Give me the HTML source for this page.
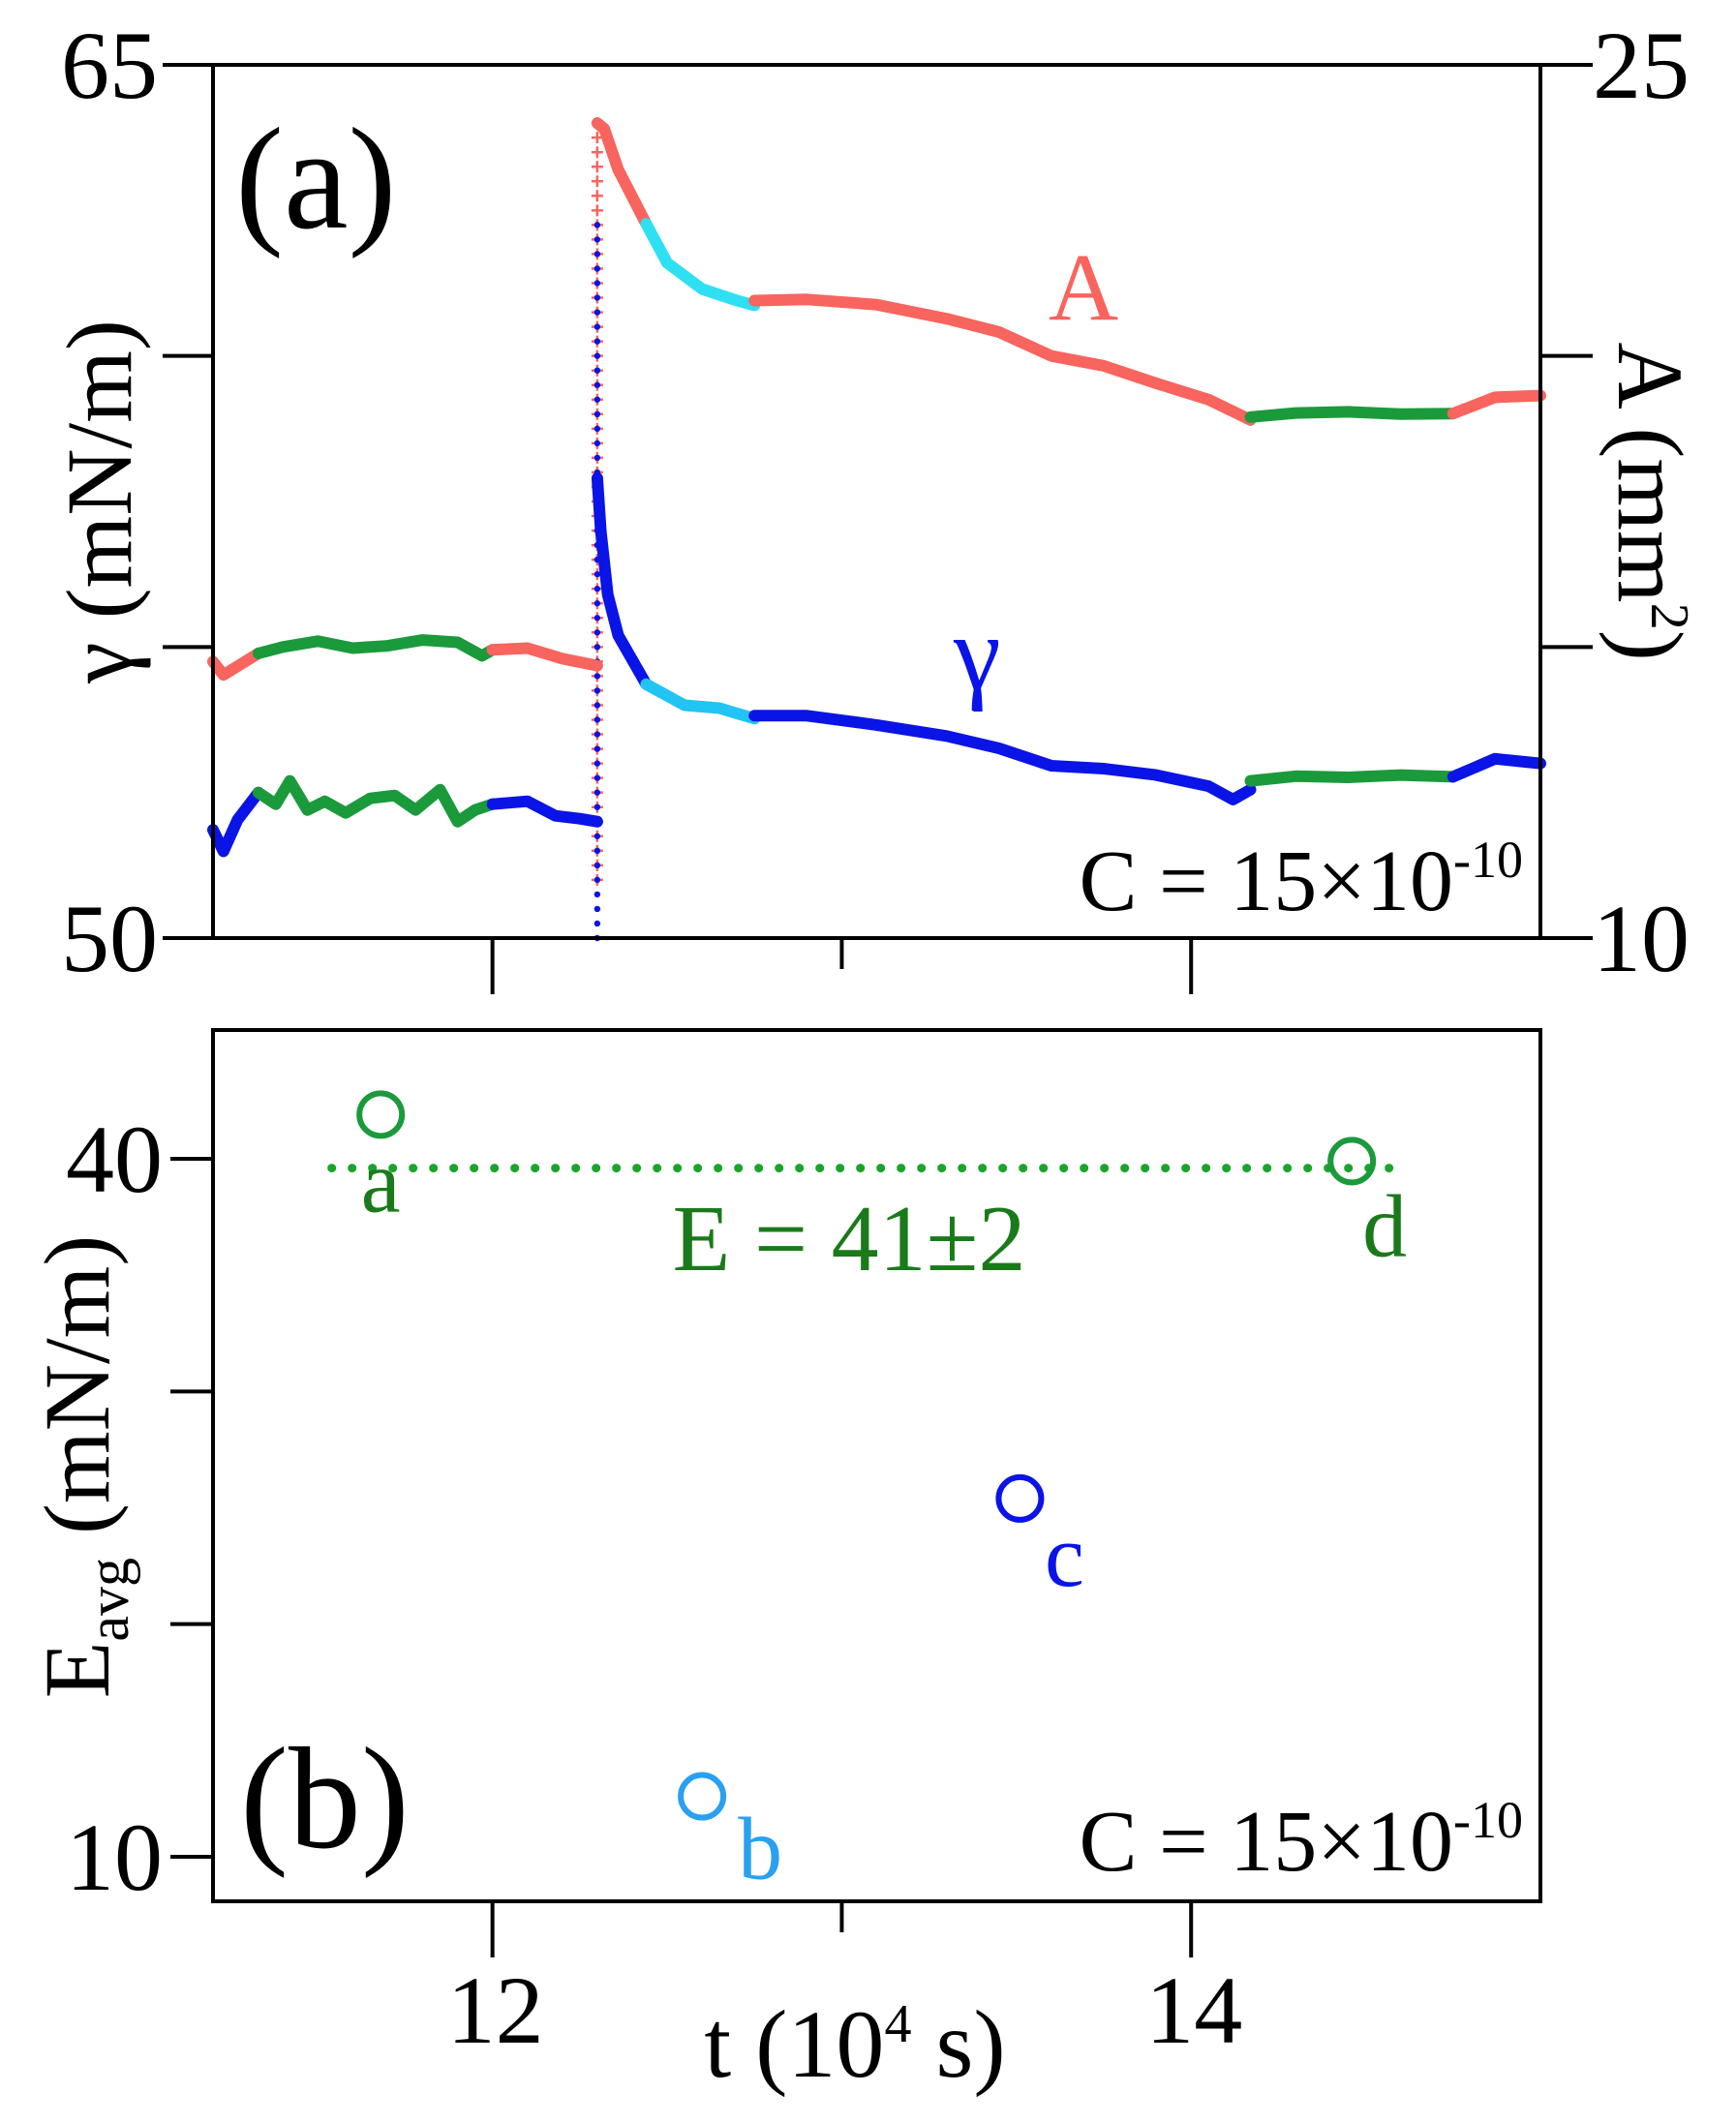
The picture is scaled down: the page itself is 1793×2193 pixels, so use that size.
<!DOCTYPE html>
<html><head><meta charset="utf-8"><style>
html,body{margin:0;padding:0;background:#fff}
svg{display:block}
text{font-family:"Liberation Serif",serif}
</style></head><body>
<svg id="chart" width="1793" height="2193" viewBox="0 0 1793 2193" xmlns="http://www.w3.org/2000/svg">
<g id="axesA"></g>
<g id="axesB"></g>
</svg>
<script>
// ---- Panel (a) data: time (1e4 s) and values ----
const aRed1T=[11.2,11.23,11.33], aRed1V=[14.75,14.52,14.89];
const aGreen1T=[11.33,11.4,11.5,11.6,11.7,11.8,11.9,11.97,12.0], aGreen1V=[14.89,15.0,15.1,14.98,15.02,15.12,15.08,14.85,14.95];
const aRed2T=[12.0,12.1,12.2,12.3], aRed2V=[14.95,14.98,14.8,14.68];
const aRed3T=[12.3,12.32,12.36,12.44], aRed3V=[24.0,23.9,23.2,22.27];
const aCyanT=[12.44,12.5,12.6,12.7,12.75], aCyanV=[22.27,21.6,21.15,20.95,20.87];
const aRed4T=[12.75,12.9,13.1,13.3,13.45,13.6,13.75,13.9,14.05,14.17], aRed4V=[20.95,20.97,20.88,20.64,20.41,20.0,19.83,19.53,19.25,18.9];
const aGreen2T=[14.17,14.3,14.45,14.6,14.75], aGreen2V=[18.95,19.02,19.04,19.0,19.01];
const aRed5T=[14.75,14.87,15.0], aRed5V=[19.01,19.29,19.32];
const aSpikeT=12.3, aSpikeLo=11.0, aSpikeHi=24.0;

const gBlue1T=[11.2,11.23,11.27,11.33], gBlue1V=[51.86,51.49,52.03,52.5];
const gGreen1T=[11.33,11.38,11.42,11.47,11.52,11.58,11.65,11.72,11.78,11.85,11.9,11.95,12.0], gGreen1V=[52.5,52.3,52.7,52.2,52.35,52.15,52.4,52.45,52.2,52.55,52.0,52.2,52.3];
const gBlue2T=[12.0,12.1,12.18,12.25,12.3], gBlue2V=[52.3,52.35,52.1,52.05,52.0];
const gBlue3T=[12.3,12.31,12.33,12.36,12.44], gBlue3V=[57.9,57.0,55.9,55.2,54.36];
const gCyanT=[12.44,12.55,12.65,12.75], gCyanV=[54.36,54.0,53.95,53.77];
const gBlue4T=[12.75,12.9,13.1,13.3,13.45,13.6,13.75,13.9,14.05,14.12,14.17], gBlue4V=[53.82,53.82,53.66,53.47,53.26,52.96,52.91,52.8,52.61,52.38,52.55];
const gGreen2T=[14.17,14.3,14.45,14.6,14.75], gGreen2V=[52.7,52.78,52.76,52.8,52.77];
const gBlue5T=[14.75,14.87,15.0], gBlue5V=[52.77,53.08,53.0];
const gSpikeLo=50.0, gSpikeHi=62.4;

const leftTicks=[50,55,60,65], leftLabels=["50","","","65"];
const rightTicks=[10,15,20,25], rightLabels=["10","","","25"];
const xTicks=[12,13,14], xLabels=["12","","14"];

// ---- Panel (b) data ----
const ptNames=["a","b","c","d"];
const ptT=[11.68,12.6,13.51,14.46];
const ptE=[41.9,12.6,25.4,39.9];
const fitE=39.6, fitT0=11.54, fitT1=14.61;
const bTicks=[10,20,30,40], bLabels=["10","","","40"];

const NS="http://www.w3.org/2000/svg";
const L=220,R=1591,AT=67,AB=969,BT=1064,BB=1964;
const xs=t=>L+(t-11.2)/(15.0-11.2)*(R-L);
const yG=v=>AB-(v-50)/15*(AB-AT);
const yA=v=>AB-(v-10)/15*(AB-AT);
const yE=v=>1918-(v-10)*(1918-1197)/30;
function el(tag,attrs,parent){const e=document.createElementNS(NS,tag);for(const k in attrs)e.setAttribute(k,attrs[k]);parent.appendChild(e);return e;}
function txt(s,attrs,parent){const e=el("text",attrs,parent);e.textContent=s;return e;}
const ga=document.getElementById("axesA"), gb=document.getElementById("axesB");
const TS="font-size:104px;";

function series(T,V,yf,color,name){
  const d=T.map((t,i)=>(i?"L":"M")+xs(t).toFixed(1)+" "+yf(V[i]).toFixed(1)).join(" ");
  const p=el("path",{d:d,fill:"none",stroke:color,"stroke-width":12,"stroke-linejoin":"round","stroke-linecap":"round"},ga);
  
  
}
const RED="#f8645e",CYAN="#2ee0f2",GREEN="#1b9a3c",BLUE="#0a14e6",CYAN2="#22c4f4";
for(let v=aSpikeLo;v<=aSpikeHi;v+=0.25){
  const x=xs(aSpikeT),y=yA(v);
  const m=el("path",{d:`M${x-6} ${y}H${x+6}M${x} ${y-6}V${y+6}`,stroke:RED,"stroke-width":2.5},ga);
  
  
}
for(let v=gSpikeLo;v<=gSpikeHi;v+=0.25){
  const c=el("circle",{cx:xs(aSpikeT),cy:yG(v),r:3.2,fill:BLUE},ga);
  
  
}
series(aRed1T,aRed1V,yA,RED,"area-segment");series(aGreen1T,aGreen1V,yA,GREEN,"area-segment");
series(aRed2T,aRed2V,yA,RED,"area-segment");series(aRed3T,aRed3V,yA,RED,"area-segment");
series(aCyanT,aCyanV,yA,CYAN,"area-segment");series(aRed4T,aRed4V,yA,RED,"area-segment");
series(aGreen2T,aGreen2V,yA,GREEN,"area-segment");series(aRed5T,aRed5V,yA,RED,"area-segment");
series(gBlue1T,gBlue1V,yG,BLUE,"gamma-segment");series(gGreen1T,gGreen1V,yG,GREEN,"gamma-segment");
series(gBlue2T,gBlue2V,yG,BLUE,"gamma-segment");series(gBlue3T,gBlue3V,yG,BLUE,"gamma-segment");
series(gCyanT,gCyanV,yG,CYAN2,"gamma-segment");series(gBlue4T,gBlue4V,yG,BLUE,"gamma-segment");
series(gGreen2T,gGreen2V,yG,GREEN,"gamma-segment");series(gBlue5T,gBlue5V,yG,BLUE,"gamma-segment");

let f=el("rect",{x:L,y:AT,width:R-L,height:AB-AT,fill:"none",stroke:"#000","stroke-width":4},ga);

leftTicks.forEach((v,i)=>{const y=yG(v);
  const t=el("line",{x1:168,x2:L,y1:y,y2:y,stroke:"#000","stroke-width":4},ga);
  
  if(leftLabels[i]){const l=txt(leftLabels[i],{x:163,y:y+34,"font-size":100,"text-anchor":"end"},ga);
  }
});
rightTicks.forEach((v,i)=>{const y=yA(v);
  const t=el("line",{x1:R,x2:1645,y1:y,y2:y,stroke:"#000","stroke-width":4},ga);
  
  if(rightLabels[i]){const l=txt(rightLabels[i],{x:1645,y:y+34,"font-size":100},ga);
  }
});
xTicks.forEach((v,i)=>{const x=xs(v);
  const t=el("line",{x1:x,x2:x,y1:AB,y2:xLabels[i]?1027:1001,stroke:"#000","stroke-width":4},ga);
  });
let s;
s=txt("(a)",{x:243,y:235,"font-size":150},ga);
s=txt("A",{x:1083,y:330,"font-size":100,fill:RED},ga);
s=txt("γ",{x:985,y:712,"font-size":110,fill:BLUE},ga);
s=txt("",{x:1573,y:940,"font-size":90,"text-anchor":"end"},ga);s.innerHTML='C = 15×10<tspan dy="-34" font-size="54">-10</tspan>';

s=txt("",{transform:"translate(135,518) rotate(-90)","font-size":96,"text-anchor":"middle"},ga);s.textContent="γ (mN/m)";

s=txt("",{transform:"translate(1672,518) rotate(90)","font-size":96,"text-anchor":"middle"},ga);s.innerHTML='A (mm<tspan dy="-34" font-size="56">2</tspan><tspan dy="34">)</tspan>';


f=el("rect",{x:L,y:BT,width:R-L,height:BB-BT,fill:"none",stroke:"#000","stroke-width":4},gb);

bTicks.forEach((v,i)=>{const y=yE(v);
  const t=el("line",{x1:176,x2:L,y1:y,y2:y,stroke:"#000","stroke-width":4},gb);
  
  if(bLabels[i]){const l=txt(bLabels[i],{x:168,y:y+34,"font-size":100,"text-anchor":"end"},gb);
  }
});
xTicks.forEach((v,i)=>{const x=xs(v);
  const t=el("line",{x1:x,x2:x,y1:BB,y2:xLabels[i]?2022:1996,stroke:"#000","stroke-width":4},gb);
  
  if(xLabels[i]){const l=txt(xLabels[i],{x:x+3,y:2110,"font-size":100,"text-anchor":"middle"},gb);
  }
});
const fit=el("line",{x1:xs(fitT0),x2:xs(fitT1),y1:yE(fitE),y2:yE(fitE),stroke:"#1aa52a","stroke-width":9,"stroke-dasharray":"0 21","stroke-linecap":"round"},gb);

const ptColors=["#1b9a3c","#2aa0f0","#0a14e6","#1b9a3c"];
const lblOff=[[0,100],[60,85],[46,90],[34,98]];
ptT.forEach((t,i)=>{
  const c=el("circle",{cx:xs(t),cy:yE(ptE[i]),r:22,fill:"none",stroke:ptColors[i],"stroke-width":6},gb);
  
  
  const l=txt(ptNames[i],{x:xs(t)+lblOff[i][0],y:yE(ptE[i])+lblOff[i][1],"font-size":92,"text-anchor":"middle",fill:ptColors[i]==="#1b9a3c"?"#1a7a1a":ptColors[i]},gb);
  
  
});
s=txt("E = 41±2",{x:877,y:1312,"font-size":98,"text-anchor":"middle",fill:"#1a7a1a"},gb);
s=txt("(b)",{x:248,y:1908,"font-size":150},gb);
s=txt("",{x:1573,y:1932,"font-size":90,"text-anchor":"end"},gb);s.innerHTML='C = 15×10<tspan dy="-34" font-size="54">-10</tspan>';

s=txt("",{transform:"translate(112,1515) rotate(-90)","font-size":96,"text-anchor":"middle"},gb);s.innerHTML='E<tspan dy="20" font-size="60">avg</tspan><tspan dy="-20"> (mN/m)</tspan>';

s=txt("",{x:883,y:2145,"font-size":100,"text-anchor":"middle"},gb);s.innerHTML='t (10<tspan dy="-36" font-size="56">4</tspan><tspan dy="36"> s)</tspan>';

</script>
</body></html>
